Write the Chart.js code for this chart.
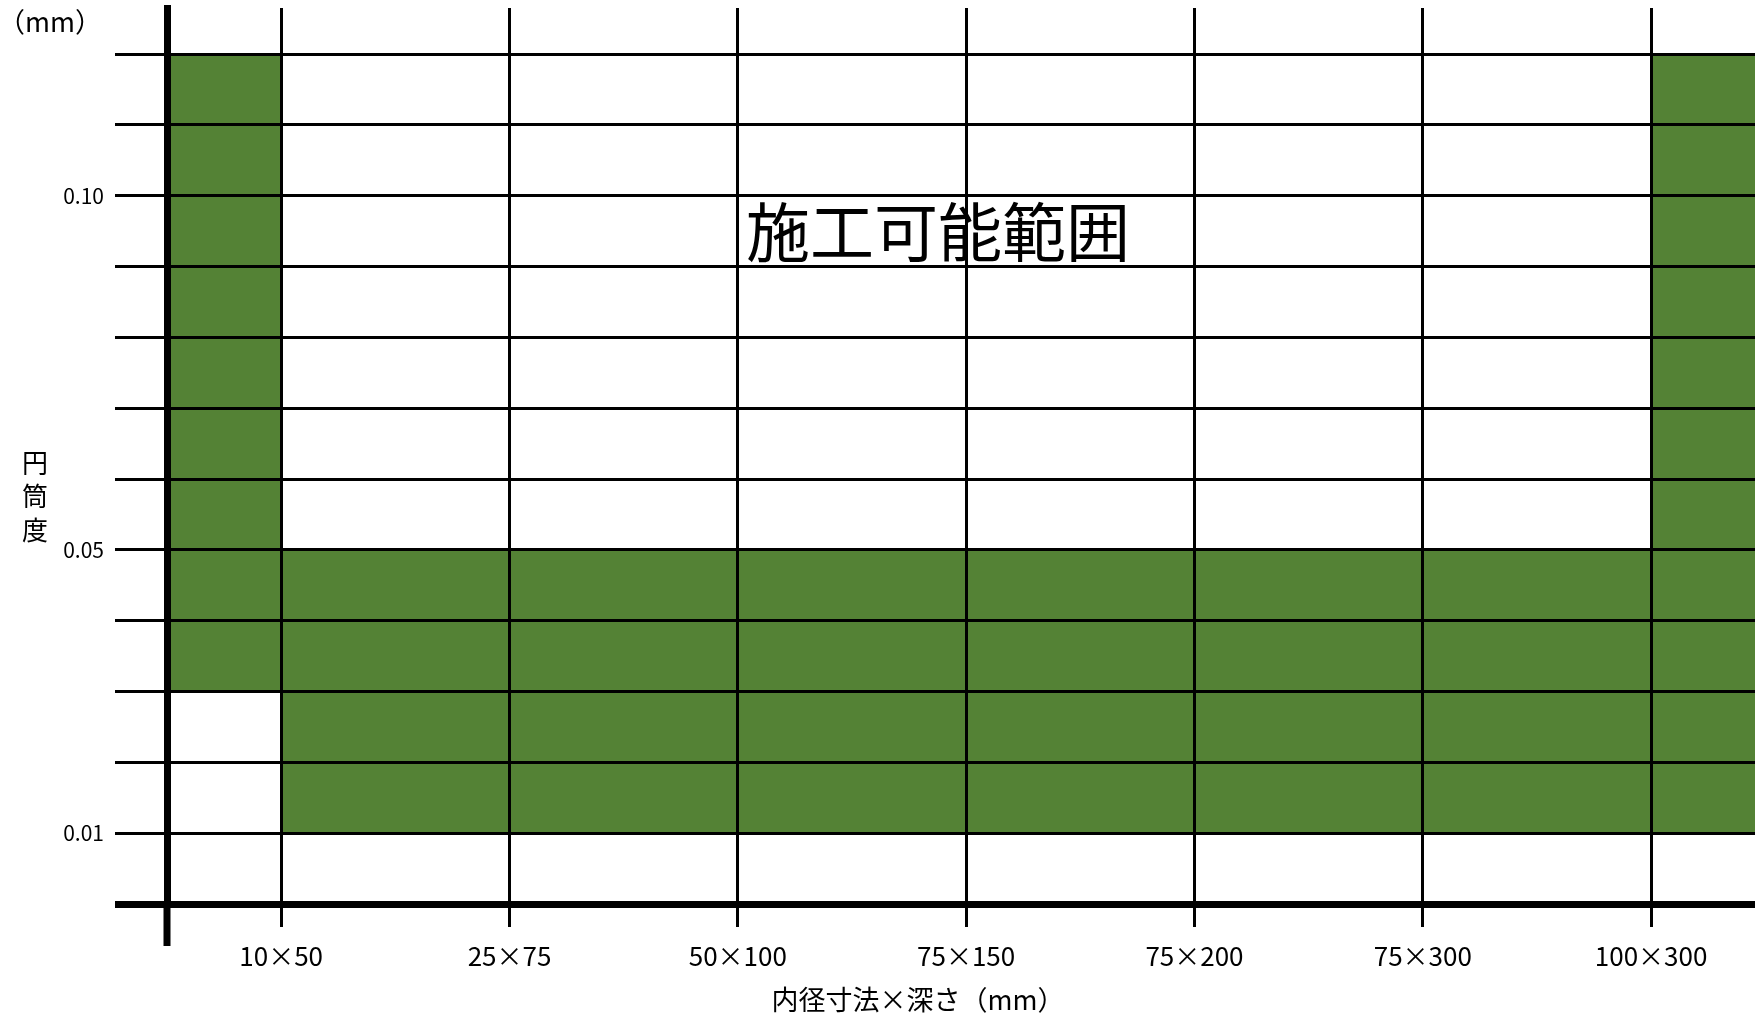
<!DOCTYPE html>
<html lang="ja">
<head>
<meta charset="utf-8">
<title>円筒度 施工可能範囲</title>
<script src="https://cdn.jsdelivr.net/npm/chart.js@4.4.1/dist/chart.umd.min.js"></script>
<style>
  html, body { margin: 0; padding: 0; background: #fff; }
  #wrap { position: relative; width: 1755px; height: 1020px; }
</style>
</head>
<body>
<div id="wrap"><canvas id="chart"></canvas></div>
<script>
const categories = ["10×50", "25×75", "50×100", "75×150", "75×200", "75×300", "100×300"];

// workable band of 円筒度 (mm) per cell; cell 0 is left of 10×50, cell 7 right of 100×300
const bandLow  = [0.03, 0.01, 0.01, 0.01, 0.01, 0.01, 0.01, 0.01];
const bandHigh = [0.12, 0.05, 0.05, 0.05, 0.05, 0.05, 0.05, 0.12];

const yGridValues = [0, 0.01, 0.02, 0.03, 0.04, 0.05, 0.06, 0.07, 0.08, 0.09, 0.10, 0.11, 0.12];
const yTickLabels = ["0.01", "0.05", "0.10"];

const FONT = "'Noto Sans CJK JP', 'Noto Sans', sans-serif";
const GREEN = "#548235";

function yLabel(v) {
    const hit = yTickLabels.find((t) => Math.abs(parseFloat(t) - v) < 1e-6);
    return hit || "";
}

const cells = bandLow.map((lo, i) => ({ x: i + 0.5, y: [lo, bandHigh[i]] }));

const extras = {
    id: "extras",
    afterDraw(chart) {
        const { ctx, chartArea, scales } = chart;
        ctx.save();

        // y axis carries on below the x axis
        ctx.strokeStyle = "#000";
        ctx.lineWidth = 7;
        ctx.beginPath();
        ctx.moveTo(chartArea.left, chartArea.bottom);
        ctx.lineTo(chartArea.left, chartArea.bottom + 42);
        ctx.stroke();

        ctx.fillStyle = "#000";
        ctx.textBaseline = "middle";

        ctx.font = "27px " + FONT;
        ctx.textAlign = "left";
        ctx.fillText("（mm）", -2, 22);

        ctx.font = "26px " + FONT;
        ctx.textAlign = "center";
        ["円", "筒", "度"].forEach((ch, i) => ctx.fillText(ch, 35, 463 + i * 33.5));

        ctx.font = "27px " + FONT;
        ctx.fillText("内径寸法×深さ（mm）", 918, 1000);

        ctx.font = "64px " + FONT;
        ctx.fillText("施工可能範囲", scales.x.getPixelForValue(3.877), scales.y.getPixelForValue(0.0949));

        ctx.restore();
    }
};

new Chart(document.getElementById("chart"), {
    type: "bar",
    data: {
        datasets: [{
            data: cells,
            backgroundColor: GREEN,
            borderWidth: 0,
            barPercentage: 1,
            categoryPercentage: 1,
            clip: 0
        }]
    },
    options: {
        responsive: true,
        maintainAspectRatio: false,
        animation: false,
        layout: { padding: { top: 8, right: 0, bottom: 0, left: 0 } },
        plugins: {
            legend: { display: false },
            tooltip: { enabled: false }
        },
        scales: {
            x: {
                type: "linear",
                min: 0.5,
                max: 7.455,
                offset: false,
                afterBuildTicks: (axis) => { axis.ticks = categories.map((c, i) => ({ value: i + 1 })); },
                afterFit: (axis) => { axis.height = 116; axis.paddingLeft = 0; axis.paddingRight = 0; },
                grid: { color: "#000", lineWidth: 3, tickLength: 23, z: 1, offset: false },
                border: { display: false },
                ticks: {
                    callback: (v) => categories[v - 1],
                    color: "#000",
                    font: { family: FONT, size: 26 },
                    padding: 14,
                    maxRotation: 0,
                    autoSkip: false
                }
            },
            y: {
                type: "linear",
                min: 0,
                max: 0.1265,
                afterBuildTicks: (axis) => { axis.ticks = yGridValues.map((v) => ({ value: v })); },
                afterFit: (axis) => { axis.width = 167; axis.paddingTop = 0; axis.paddingBottom = 0; },
                grid: {
                    color: "#000",
                    lineWidth: (c) => (c.tick && c.tick.value === 0 ? 7 : 3),
                    tickLength: 52,
                    z: 1
                },
                border: { display: true, color: "#000", width: 7, z: 2 },
                ticks: {
                    callback: (v) => yLabel(v),
                    color: "#000",
                    font: { family: FONT, size: 21 },
                    padding: 11,
                    autoSkip: false
                }
            }
        }
    },
    plugins: [extras]
});
</script>
</body>
</html>
